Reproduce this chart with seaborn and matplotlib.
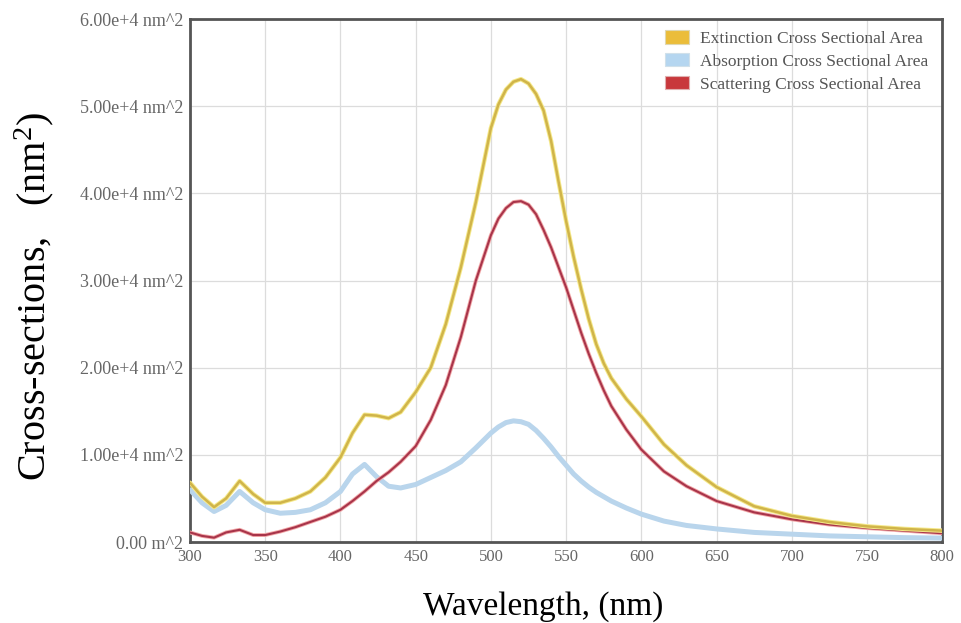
import numpy as np
import pandas as pd
import matplotlib
matplotlib.use("Agg")
import matplotlib.pyplot as plt
from matplotlib.patches import Patch
import seaborn as sns

wavelength = [300, 308, 316, 324, 333, 342, 350, 360, 370, 380, 390, 400, 408, 416,
              424, 432, 440, 450, 460, 470, 480, 490, 500, 505, 510, 515, 520, 525,
              530, 535, 540, 545, 550, 555, 560, 565, 570, 575, 580, 590, 600, 615,
              630, 650, 675, 700, 725, 750, 775, 800]

extinction = [0.68, 0.52, 0.40, 0.50, 0.70, 0.55, 0.45, 0.45, 0.50, 0.58, 0.74, 0.97,
              1.25, 1.46, 1.45, 1.42, 1.49, 1.72, 2.00, 2.50, 3.15, 3.90, 4.75, 5.02,
              5.19, 5.28, 5.31, 5.26, 5.14, 4.95, 4.60, 4.13, 3.68, 3.27, 2.90, 2.56,
              2.27, 2.05, 1.88, 1.64, 1.44, 1.12, 0.88, 0.63, 0.41, 0.30, 0.23, 0.18,
              0.15, 0.13]

absorption = [0.60, 0.45, 0.35, 0.42, 0.58, 0.45, 0.37, 0.33, 0.34, 0.37, 0.45, 0.58,
              0.78, 0.89, 0.75, 0.64, 0.62, 0.66, 0.74, 0.82, 0.92, 1.08, 1.25, 1.32,
              1.37, 1.39, 1.38, 1.35, 1.28, 1.19, 1.09, 0.98, 0.88, 0.78, 0.70, 0.63,
              0.57, 0.52, 0.47, 0.39, 0.32, 0.24, 0.19, 0.15, 0.11, 0.09, 0.07, 0.06,
              0.05, 0.045]

scattering = [0.11, 0.07, 0.05, 0.11, 0.14, 0.08, 0.08, 0.12, 0.17, 0.23, 0.29, 0.37,
              0.47, 0.58, 0.70, 0.80, 0.92, 1.10, 1.40, 1.80, 2.35, 3.00, 3.52, 3.71,
              3.83, 3.90, 3.91, 3.87, 3.76, 3.58, 3.38, 3.15, 2.92, 2.66, 2.40, 2.16,
              1.94, 1.74, 1.56, 1.29, 1.06, 0.81, 0.64, 0.47, 0.34, 0.26, 0.20, 0.16,
              0.13, 0.10]

series_names = ["Extinction Cross Sectional Area",
                "Absorption Cross Sectional Area",
                "Scattering Cross Sectional Area"]

y_ticks = [0, 1e4, 2e4, 3e4, 4e4, 5e4, 6e4]
y_tick_labels = ["0.00 m^2", "1.00e+4 nm^2", "2.00e+4 nm^2", "3.00e+4 nm^2",
                 "4.00e+4 nm^2", "5.00e+4 nm^2", "6.00e+4 nm^2"]
x_ticks = [300, 350, 400, 450, 500, 550, 600, 650, 700, 750, 800]

sns.set_theme(style="white")
plt.rcParams['font.family'] = ['Liberation Serif', 'DejaVu Serif']
plt.rcParams['mathtext.fontset'] = 'custom'
plt.rcParams['mathtext.rm'] = 'Liberation Serif'
plt.rcParams['mathtext.it'] = 'Liberation Serif'

df = pd.DataFrame({
    "wl": wavelength,
    "ext": np.array(extinction) * 1e4,
    "abs": np.array(absorption) * 1e4,
    "sca": np.array(scattering) * 1e4,
})

fig = plt.figure(figsize=(9.62, 6.23), dpi=100)
ax = fig.add_axes([0.1975, 0.13, 0.782, 0.8395])

# absorption (light blue, wide)
sns.lineplot(data=df, x="wl", y="abs", ax=ax, color="#b9d5ec", lw=3.6, zorder=3)
# scattering (red halo + dark core)
sns.lineplot(data=df, x="wl", y="sca", ax=ax, color="#f2a8a8", lw=2.8, zorder=4)
sns.lineplot(data=df, x="wl", y="sca", ax=ax, color="#a8344a", lw=1.5, zorder=5)
# extinction (yellow halo + olive core)
sns.lineplot(data=df, x="wl", y="ext", ax=ax, color="#f5e98a", lw=3.2, zorder=6)
sns.lineplot(data=df, x="wl", y="ext", ax=ax, color="#d0b44a", lw=1.8, zorder=7)

ax.set_xlim(300, 800)
ax.set_ylim(0, 6e4)
ax.set_xticks(x_ticks)
ax.set_xticklabels([str(t) for t in x_ticks], color="#666666", fontsize=12)
ax.set_yticks(y_ticks)
ax.set_yticklabels(y_tick_labels, color="#666666", fontsize=13)
ax.tick_params(axis="both", length=0, pad=5)

ax.grid(True, color="#dcdcdc", lw=0.9)
ax.set_axisbelow(True)
for s in ax.spines.values():
    s.set_color("#555555")
    s.set_linewidth(2)

ax.set_xlabel("Wavelength, (nm)", fontsize=24, color="black")
ax.xaxis.set_label_coords(0.47, -0.095)
ax.set_ylabel("Cross-sections,   (nm$^2$)", fontsize=29, color="black")
ax.yaxis.set_label_coords(-0.178, 0.47)

handles = [Patch(facecolor="#ebbd3a", edgecolor="#e0d8b0", lw=0.8),
           Patch(facecolor="#b5d6f0", edgecolor="#d0e0ea", lw=0.8),
           Patch(facecolor="#c8383c", edgecolor="#e0b0b0", lw=0.8)]
leg = ax.legend(handles, series_names, loc="upper right", frameon=False,
                fontsize=12.5, handlelength=1.4, handleheight=0.8,
                labelspacing=0.35, handletextpad=0.6,
                bbox_to_anchor=(0.995, 0.998), borderaxespad=0.2)
for t in leg.get_texts():
    t.set_color("#555555")

fig.savefig("out.png", dpi=100)
